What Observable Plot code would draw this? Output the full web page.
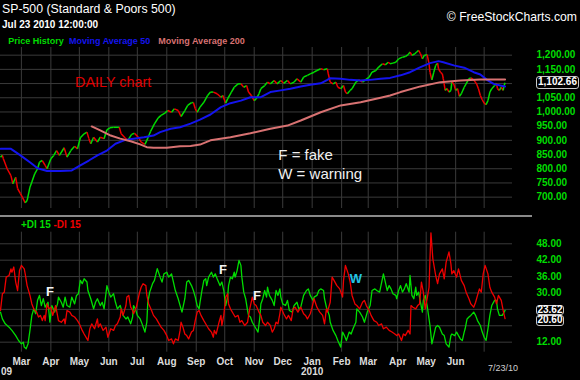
<!DOCTYPE html>
<html><head><meta charset="utf-8">
<script src="https://cdn.jsdelivr.net/npm/d3@7"></script>
<script src="https://cdn.jsdelivr.net/npm/@observablehq/plot@0.6"></script>
<style>
html,body{margin:0;padding:0;background:#000;}
body{width:580px;height:380px;overflow:hidden;position:relative;font-family:"Liberation Sans",Arial,sans-serif;}
.t{position:absolute;white-space:nowrap;line-height:1;}
.abs{position:absolute;left:0;}
.box{position:absolute;box-sizing:border-box;border:1px solid #c8c8c8;border-radius:3px;background:#000;color:#fff;font:bold 10px "Liberation Sans",Arial,sans-serif;text-align:center;}
</style></head><body>
<script>
// ---------- data ----------
const price = [["2009-02-07",841],["2009-02-09",847],["2009-02-10",835],["2009-02-14",800],["2009-02-18",776],["2009-02-20",747],["2009-02-23",770],["2009-02-25",730],["2009-02-28",712],["2009-03-02",700],["2009-03-05",680],["2009-03-07",688],["2009-03-10",735],["2009-03-12",753],["2009-03-15",782],["2009-03-18",800],["2009-03-20",823],["2009-03-23",829],["2009-03-26",812],["2009-03-28",800],["2009-04-01",835],["2009-04-04",847],["2009-04-07",864],["2009-04-10",847],["2009-04-15",874],["2009-04-18",841],["2009-04-22",864],["2009-04-26",879],["2009-04-29",870],["2009-05-02",909],["2009-05-06",923],["2009-05-09",929],["2009-05-11",906],["2009-05-13",888],["2009-05-16",911],["2009-05-20",894],["2009-05-23",911],["2009-05-27",906],["2009-05-30",937],["2009-06-02",944],["2009-06-06",946],["2009-06-12",946],["2009-06-14",923],["2009-06-18",909],["2009-06-21",900],["2009-06-25",921],["2009-06-28",925],["2009-07-02",911],["2009-07-05",894],["2009-07-09",886],["2009-07-11",900],["2009-07-15",932],["2009-07-19",958],["2009-07-23",979],["2009-07-26",988],["2009-07-30",996],["2009-08-02",1005],["2009-08-06",999],["2009-08-09",1011],["2009-08-13",1005],["2009-08-16",984],["2009-08-20",1005],["2009-08-23",1023],["2009-08-27",1033],["2009-08-29",1033],["2009-08-31",1011],["2009-09-02",999],["2009-09-05",1017],["2009-09-09",1034],["2009-09-13",1058],["2009-09-16",1070],["2009-09-19",1070],["2009-09-23",1064],["2009-09-27",1052],["2009-09-29",1058],["2009-10-02",1031],["2009-10-04",1046],["2009-10-08",1070],["2009-10-11",1087],["2009-10-15",1099],["2009-10-18",1099],["2009-10-21",1087],["2009-10-24",1093],["2009-10-26",1070],["2009-10-29",1058],["2009-11-01",1040],["2009-11-03",1046],["2009-11-06",1064],["2009-11-08",1082],["2009-11-12",1093],["2009-11-15",1105],["2009-11-18",1099],["2009-11-22",1111],["2009-11-25",1099],["2009-11-29",1111],["2009-12-02",1101],["2009-12-06",1111],["2009-12-09",1099],["2009-12-13",1105],["2009-12-16",1117],["2009-12-20",1105],["2009-12-23",1123],["2009-12-27",1129],["2009-12-30",1134],["2010-01-03",1140],["2010-01-06",1146],["2010-01-10",1152],["2010-01-13",1149],["2010-01-17",1152],["2010-01-18",1134],["2010-01-20",1105],["2010-01-23",1099],["2010-01-26",1105],["2010-01-28",1087],["2010-01-31",1082],["2010-02-03",1093],["2010-02-05",1070],["2010-02-07",1064],["2010-02-10",1076],["2010-02-12",1082],["2010-02-16",1105],["2010-02-19",1113],["2010-02-23",1105],["2010-02-26",1113],["2010-03-02",1123],["2010-03-05",1140],["2010-03-09",1146],["2010-03-12",1158],["2010-03-16",1170],["2010-03-19",1166],["2010-03-22",1175],["2010-03-24",1170],["2010-03-27",1172],["2010-03-30",1175],["2010-04-02",1187],["2010-04-06",1193],["2010-04-09",1195],["2010-04-12",1202],["2010-04-14",1211],["2010-04-16",1199],["2010-04-19",1205],["2010-04-21",1211],["2010-04-23",1217],["2010-04-25",1205],["2010-04-27",1187],["2010-04-29",1199],["2010-05-02",1202],["2010-05-04",1170],["2010-05-05",1140],["2010-05-07",1113],["2010-05-09",1140],["2010-05-11",1164],["2010-05-13",1172],["2010-05-14",1152],["2010-05-16",1140],["2010-05-18",1134],["2010-05-19",1117],["2010-05-21",1076],["2010-05-23",1082],["2010-05-25",1070],["2010-05-27",1076],["2010-05-28",1105],["2010-05-30",1099],["2010-06-01",1076],["2010-06-03",1082],["2010-06-05",1055],["2010-06-07",1064],["2010-06-10",1087],["2010-06-12",1099],["2010-06-15",1117],["2010-06-17",1120],["2010-06-20",1113],["2010-06-23",1099],["2010-06-25",1082],["2010-06-27",1058],["2010-06-29",1043],["2010-07-01",1031],["2010-07-03",1026],["2010-07-05",1040],["2010-07-07",1070],["2010-07-09",1082],["2010-07-12",1093],["2010-07-14",1101],["2010-07-15",1082],["2010-07-17",1076],["2010-07-19",1087],["2010-07-21",1076],["2010-07-22",1093],["2010-07-23",1102.66]];

const sma50 = [["2009-02-07",870],["2009-02-18",870],["2009-02-28",847],["2009-03-11",820],["2009-03-18",802],["2009-03-28",792],["2009-04-11",792],["2009-04-23",794],["2009-05-02",812],["2009-05-11",829],["2009-05-20",847],["2009-05-30",864],["2009-06-08",888],["2009-06-17",900],["2009-06-27",906],["2009-07-08",911],["2009-07-18",917],["2009-07-25",929],["2009-08-05",941],["2009-08-15",946],["2009-08-26",959],["2009-09-05",973],["2009-09-16",991],["2009-09-27",1017],["2009-10-07",1031],["2009-10-18",1040],["2009-10-28",1052],["2009-11-08",1052],["2009-11-18",1070],["2009-11-29",1076],["2009-12-09",1082],["2009-12-20",1090],["2009-12-30",1096],["2010-01-10",1101],["2010-01-17",1113],["2010-01-20",1119],["2010-01-31",1117],["2010-02-10",1113],["2010-02-21",1111],["2010-03-03",1113],["2010-03-14",1117],["2010-03-24",1120],["2010-04-04",1129],["2010-04-14",1140],["2010-04-25",1158],["2010-05-05",1172],["2010-05-14",1179],["2010-05-19",1175],["2010-05-30",1164],["2010-06-10",1156],["2010-06-20",1140],["2010-06-27",1132],["2010-07-04",1113],["2010-07-11",1099],["2010-07-18",1093],["2010-07-23",1090]];

const sma200 = [["2009-05-14",949],["2009-05-23",935],["2009-06-03",917],["2009-06-13",906],["2009-06-24",897],["2009-07-04",886],["2009-07-11",876],["2009-07-18",874],["2009-08-01",874],["2009-08-15",879],["2009-08-26",880],["2009-09-05",885],["2009-09-16",900],["2009-10-07",911],["2009-10-28",925],["2009-11-18",941],["2009-12-06",952],["2009-12-20",970],["2010-01-10",999],["2010-01-31",1023],["2010-02-21",1034],["2010-03-14",1050],["2010-03-24",1058],["2010-04-04",1070],["2010-04-25",1090],["2010-05-16",1105],["2010-06-06",1111],["2010-06-27",1114],["2010-07-23",1114]];

const plusDI = [["2009-02-07",23.0],["2009-02-09",20.5],["2009-02-12",18.7],["2009-02-16",17.5],["2009-02-19",16.3],["2009-02-23",14.4],["2009-02-26",12.6],["2009-03-01",11.4],["2009-03-03",12.0],["2009-03-04",10.2],["2009-03-06",9.6],["2009-03-08",11.4],["2009-03-10",16.3],["2009-03-12",21.8],["2009-03-14",24.2],["2009-03-16",22.4],["2009-03-18",27.3],["2009-03-20",29.1],["2009-03-22",25.4],["2009-03-24",27.9],["2009-03-26",24.8],["2009-03-29",26.6],["2009-03-31",19.3],["2009-04-02",25.4],["2009-04-05",23.0],["2009-04-08",26.0],["2009-04-09",28.5],["2009-04-12",26.6],["2009-04-14",24.8],["2009-04-16",28.5],["2009-04-18",25.4],["2009-04-21",24.8],["2009-04-23",28.5],["2009-04-26",26.0],["2009-04-28",29.1],["2009-04-30",29.7],["2009-05-02",34.6],["2009-05-04",33.4],["2009-05-06",35.2],["2009-05-09",34.0],["2009-05-10",30.9],["2009-05-13",27.9],["2009-05-16",24.2],["2009-05-18",26.6],["2009-05-20",27.9],["2009-05-23",25.4],["2009-05-25",26.6],["2009-05-27",24.2],["2009-05-30",32.7],["2009-06-01",30.3],["2009-06-03",28.5],["2009-06-06",29.7],["2009-06-08",26.6],["2009-06-10",24.2],["2009-06-13",25.4],["2009-06-16",21.8],["2009-06-19",20.5],["2009-06-21",21.2],["2009-06-24",18.7],["2009-06-26",21.2],["2009-06-27",25.4],["2009-06-29",24.2],["2009-07-01",21.8],["2009-07-04",20.5],["2009-07-06",18.7],["2009-07-09",15.7],["2009-07-11",19.3],["2009-07-12",26.6],["2009-07-14",30.3],["2009-07-17",33.4],["2009-07-19",34.6],["2009-07-22",38.9],["2009-07-25",35.8],["2009-07-27",34.0],["2009-07-29",37.0],["2009-08-01",37.6],["2009-08-03",35.8],["2009-08-06",37.0],["2009-08-08",34.0],["2009-08-10",30.9],["2009-08-13",27.9],["2009-08-15",25.4],["2009-08-17",23.0],["2009-08-20",27.9],["2009-08-22",34.0],["2009-08-24",34.6],["2009-08-27",32.7],["2009-08-29",30.9],["2009-08-31",28.5],["2009-09-02",25.4],["2009-09-04",24.2],["2009-09-05",26.6],["2009-09-07",30.9],["2009-09-09",34.6],["2009-09-11",35.2],["2009-09-12",32.7],["2009-09-14",35.8],["2009-09-17",37.6],["2009-09-19",35.8],["2009-09-21",37.0],["2009-09-23",35.2],["2009-09-26",32.7],["2009-09-28",34.0],["2009-09-30",30.9],["2009-10-02",25.4],["2009-10-04",28.5],["2009-10-05",32.7],["2009-10-07",35.8],["2009-10-09",35.2],["2009-10-11",37.6],["2009-10-12",35.8],["2009-10-14",38.2],["2009-10-16",41.9],["2009-10-18",40.1],["2009-10-19",35.8],["2009-10-21",30.3],["2009-10-23",27.9],["2009-10-25",23.6],["2009-10-26",21.8],["2009-10-28",21.2],["2009-10-30",19.3],["2009-11-01",18.1],["2009-11-03",16.9],["2009-11-05",15.7],["2009-11-07",21.2],["2009-11-08",26.0],["2009-11-10",27.9],["2009-11-12",30.9],["2009-11-14",28.5],["2009-11-15",32.1],["2009-11-17",29.1],["2009-11-20",27.3],["2009-11-22",25.4],["2009-11-24",30.9],["2009-11-26",29.1],["2009-11-28",31.5],["2009-11-29",28.5],["2009-12-01",26.0],["2009-12-04",25.4],["2009-12-06",27.3],["2009-12-08",23.6],["2009-12-11",23.0],["2009-12-13",25.4],["2009-12-16",26.6],["2009-12-18",24.2],["2009-12-20",24.8],["2009-12-23",29.1],["2009-12-26",30.9],["2009-12-28",31.5],["2009-12-30",29.1],["2010-01-02",27.3],["2010-01-03",28.5],["2010-01-06",29.1],["2010-01-08",30.9],["2010-01-10",31.5],["2010-01-13",30.9],["2010-01-14",27.9],["2010-01-16",24.8],["2010-01-19",21.8],["2010-01-20",19.3],["2010-01-23",16.3],["2010-01-26",14.4],["2010-01-28",12.6],["2010-01-31",10.2],["2010-02-02",15.7],["2010-02-04",14.4],["2010-02-06",12.6],["2010-02-09",15.7],["2010-02-11",15.0],["2010-02-13",16.9],["2010-02-16",19.3],["2010-02-17",24.2],["2010-02-20",23.0],["2010-02-23",21.2],["2010-02-25",19.3],["2010-02-28",23.0],["2010-03-03",25.4],["2010-03-05",30.9],["2010-03-08",31.5],["2010-03-10",30.9],["2010-03-13",30.3],["2010-03-17",37.0],["2010-03-19",34.0],["2010-03-21",30.9],["2010-03-23",32.7],["2010-03-25",31.5],["2010-03-27",29.7],["2010-03-30",29.1],["2010-03-31",27.9],["2010-04-02",30.9],["2010-04-04",32.7],["2010-04-06",30.3],["2010-04-08",31.5],["2010-04-10",33.4],["2010-04-13",30.3],["2010-04-14",36.4],["2010-04-16",29.1],["2010-04-18",27.9],["2010-04-20",32.1],["2010-04-21",29.1],["2010-04-23",30.3],["2010-04-25",26.6],["2010-04-27",23.0],["2010-04-28",27.3],["2010-04-30",29.1],["2010-05-02",25.4],["2010-05-04",20.5],["2010-05-05",18.1],["2010-05-07",11.4],["2010-05-09",14.4],["2010-05-11",17.5],["2010-05-13",18.1],["2010-05-15",17.5],["2010-05-18",15.0],["2010-05-20",14.4],["2010-05-22",11.4],["2010-05-25",10.2],["2010-05-27",14.4],["2010-05-28",15.0],["2010-05-31",14.4],["2010-06-02",15.7],["2010-06-04",14.4],["2010-06-06",13.2],["2010-06-08",12.6],["2010-06-10",15.7],["2010-06-11",16.9],["2010-06-13",20.5],["2010-06-15",21.2],["2010-06-17",21.8],["2010-06-20",23.0],["2010-06-22",21.8],["2010-06-24",19.9],["2010-06-27",18.1],["2010-06-29",15.7],["2010-07-01",13.8],["2010-07-03",12.6],["2010-07-05",16.9],["2010-07-07",21.8],["2010-07-09",25.4],["2010-07-12",27.3],["2010-07-14",27.3],["2010-07-15",24.2],["2010-07-17",21.8],["2010-07-20",21.8],["2010-07-22",23.0],["2010-07-23",23.62]];

const minusDI = [["2009-02-07",23.6],["2009-02-09",29.7],["2009-02-11",30.3],["2009-02-13",35.8],["2009-02-16",36.4],["2009-02-18",38.8],["2009-02-19",37.6],["2009-02-21",39.5],["2009-02-23",34.0],["2009-02-25",30.9],["2009-02-27",38.2],["2009-03-01",40.1],["2009-03-04",38.8],["2009-03-05",37.0],["2009-03-07",32.7],["2009-03-10",29.1],["2009-03-12",26.0],["2009-03-14",24.2],["2009-03-17",23.0],["2009-03-19",21.2],["2009-03-21",21.8],["2009-03-23",19.9],["2009-03-25",21.8],["2009-03-26",19.9],["2009-03-28",26.0],["2009-03-30",24.2],["2009-04-01",24.8],["2009-04-03",21.8],["2009-04-06",25.4],["2009-04-08",21.8],["2009-04-09",19.9],["2009-04-12",19.3],["2009-04-15",20.5],["2009-04-16",18.7],["2009-04-18",23.6],["2009-04-21",23.0],["2009-04-23",21.8],["2009-04-26",21.2],["2009-04-29",19.9],["2009-05-01",18.7],["2009-05-04",16.3],["2009-05-06",15.0],["2009-05-09",13.2],["2009-05-10",12.6],["2009-05-12",16.9],["2009-05-14",18.7],["2009-05-17",16.9],["2009-05-20",20.5],["2009-05-21",17.5],["2009-05-23",18.7],["2009-05-26",16.3],["2009-05-29",17.5],["2009-05-31",13.8],["2009-06-03",16.9],["2009-06-06",16.3],["2009-06-08",18.1],["2009-06-10",18.7],["2009-06-13",21.2],["2009-06-14",24.2],["2009-06-16",21.8],["2009-06-19",25.4],["2009-06-20",28.5],["2009-06-22",29.1],["2009-06-24",24.8],["2009-06-26",23.6],["2009-06-27",22.4],["2009-06-30",24.8],["2009-07-03",29.7],["2009-07-05",32.1],["2009-07-07",33.4],["2009-07-10",32.7],["2009-07-11",29.1],["2009-07-13",26.0],["2009-07-16",23.6],["2009-07-18",21.8],["2009-07-21",20.5],["2009-07-24",18.7],["2009-07-26",17.5],["2009-07-29",16.3],["2009-08-01",14.4],["2009-08-03",12.6],["2009-08-06",13.2],["2009-08-08",11.4],["2009-08-10",13.2],["2009-08-13",12.6],["2009-08-15",16.3],["2009-08-16",19.3],["2009-08-18",17.5],["2009-08-20",15.0],["2009-08-22",14.4],["2009-08-24",13.2],["2009-08-27",15.7],["2009-08-29",16.3],["2009-08-31",20.0],["2009-09-02",23.0],["2009-09-04",23.6],["2009-09-06",21.8],["2009-09-09",19.9],["2009-09-12",18.1],["2009-09-14",16.9],["2009-09-17",15.7],["2009-09-19",13.8],["2009-09-20",16.3],["2009-09-22",15.0],["2009-09-25",19.3],["2009-09-27",21.8],["2009-09-28",18.1],["2009-09-30",21.8],["2009-10-02",28.5],["2009-10-04",29.7],["2009-10-05",26.0],["2009-10-07",24.2],["2009-10-10",22.4],["2009-10-12",21.2],["2009-10-15",21.8],["2009-10-17",19.3],["2009-10-19",19.9],["2009-10-22",18.1],["2009-10-25",19.3],["2009-10-27",23.6],["2009-10-30",28.5],["2009-11-01",26.0],["2009-11-03",25.4],["2009-11-06",23.0],["2009-11-08",21.8],["2009-11-10",19.3],["2009-11-13",18.1],["2009-11-15",19.3],["2009-11-18",18.1],["2009-11-20",15.7],["2009-11-22",16.9],["2009-11-24",19.3],["2009-11-26",18.7],["2009-11-28",22.4],["2009-11-29",24.8],["2009-12-02",22.4],["2009-12-05",20.5],["2009-12-07",21.8],["2009-12-10",19.9],["2009-12-12",24.2],["2009-12-14",24.8],["2009-12-17",23.0],["2009-12-20",24.8],["2009-12-23",22.4],["2009-12-25",21.8],["2009-12-27",20.5],["2009-12-30",22.4],["2010-01-01",24.8],["2010-01-03",27.9],["2010-01-06",24.8],["2010-01-09",23.0],["2010-01-12",21.8],["2010-01-14",18.7],["2010-01-16",24.2],["2010-01-17",23.0],["2010-01-20",26.6],["2010-01-22",35.8],["2010-01-24",34.6],["2010-01-27",32.7],["2010-01-30",31.5],["2010-02-02",28.5],["2010-02-03",34.6],["2010-02-05",40.1],["2010-02-08",37.0],["2010-02-10",34.0],["2010-02-12",29.1],["2010-02-15",26.0],["2010-02-17",25.4],["2010-02-20",24.2],["2010-02-23",26.6],["2010-02-25",27.3],["2010-02-27",25.4],["2010-03-02",23.6],["2010-03-04",21.8],["2010-03-07",19.9],["2010-03-10",19.3],["2010-03-12",18.1],["2010-03-15",18.7],["2010-03-17",16.9],["2010-03-20",17.5],["2010-03-23",16.3],["2010-03-26",15.7],["2010-03-29",15.0],["2010-03-31",14.4],["2010-04-02",15.0],["2010-04-05",12.6],["2010-04-07",15.0],["2010-04-09",14.4],["2010-04-12",16.3],["2010-04-14",15.0],["2010-04-15",25.4],["2010-04-17",24.8],["2010-04-20",24.2],["2010-04-22",25.4],["2010-04-24",26.0],["2010-04-26",34.0],["2010-04-28",30.3],["2010-04-30",24.2],["2010-05-02",27.9],["2010-05-04",32.1],["2010-05-05",42.5],["2010-05-06",52.0],["2010-05-08",42.5],["2010-05-11",36.4],["2010-05-13",33.4],["2010-05-15",37.0],["2010-05-18",38.8],["2010-05-20",35.2],["2010-05-22",41.3],["2010-05-25",45.0],["2010-05-27",40.7],["2010-05-28",37.0],["2010-05-30",38.2],["2010-06-02",35.8],["2010-06-04",38.8],["2010-06-07",34.6],["2010-06-10",32.7],["2010-06-12",30.3],["2010-06-15",27.9],["2010-06-17",26.0],["2010-06-20",24.8],["2010-06-22",26.6],["2010-06-24",29.1],["2010-06-26",31.5],["2010-06-28",30.3],["2010-06-30",37.0],["2010-07-02",40.1],["2010-07-05",37.0],["2010-07-07",32.1],["2010-07-09",30.3],["2010-07-12",28.5],["2010-07-14",26.0],["2010-07-16",29.1],["2010-07-19",27.3],["2010-07-21",23.6],["2010-07-23",20.60]];

const priceTicks = [700, 750, 800, 850, 900, 950, 1000, 1050, 1100, 1150, 1200];
const diTicks = [12, 18, 24, 30, 36, 42, 48];
const monthTicks = ["2009-03-01","2009-04-01","2009-05-01","2009-06-01","2009-07-01","2009-08-01","2009-09-01","2009-10-01","2009-11-01","2009-12-01","2010-01-01","2010-02-01","2010-03-01","2010-04-01","2010-05-01","2010-06-01","2010-07-01"];
const monthLabels = ["Mar","Apr","May","Jun","Jul","Aug","Sep","Oct","Nov","Dec","Jan","Feb","Mar","Apr","May","Jun"];
const yearStartLabel = ["2009-02-07","09"];
const yearLabel = ["2010-01-01","2010"];
const lastDateLabel = ["2010-07-23","7/23/10"];
const annoLabels = ["F","F","F","W"];
const annoDates = ["2009-03-31","2009-09-29","2009-11-04","2010-02-16"];
const annoValues = [30.5, 38.6, 29.1, 35.2];
const annoColors = ["#f4f4f4","#f4f4f4","#f4f4f4","#22c4e4"];

// ---------- helpers ----------
const D = s => new Date(s + "T00:00:00Z");
const toRows = arr => arr.map(([d, v]) => ({date: D(d), value: v}));
const P = toRows(price), S50 = toRows(sma50), S200 = toRows(sma200), PDI = toRows(plusDI), MDI = toRows(minusDI);
const segs = P.slice(1).map((d, i) => ({x1: P[i].date, y1: P[i].value, x2: d.date, y2: d.value, c: d.value >= P[i].value ? "#00dd00" : "#ee0000"}));
const months = monthTicks.map(D);
const xDomain = [D("2009-02-07"), new Date(Date.UTC(2010, 6, 30, 20))];
const GRID = "#3a3a3a";
const FONT = "'Liberation Sans', Arial, sans-serif";
const lastP = P[P.length - 1].value;
const lastPlus = PDI[PDI.length - 1].value, lastMinus = MDI[MDI.length - 1].value;
// tick labels that sit (almost) fully under the last-value boxes are hidden, as in the reference
const priceLabelTicks = priceTicks.filter(t => Math.abs(t - lastP) > 12);
const diLabelTicks = diTicks.filter(t => Math.abs(t - (lastPlus + lastMinus) / 2) > 4.5);

const body = document.body;
function txt(s, left, top, css) {
  const el = document.createElement("div");
  el.className = "t"; el.textContent = s;
  el.style.left = left + "px"; el.style.top = top + "px";
  Object.assign(el.style, css || {});
  body.appendChild(el); return el;
}

// ---------- top panel: price ----------
const chart1 = Plot.plot({
  width: 580, height: 178, marginTop: 7, marginBottom: 10, marginLeft: 0, marginRight: 68,
  style: {background: "transparent", fontFamily: FONT, overflow: "visible"},
  x: {type: "utc", domain: xDomain, axis: null},
  y: {domain: [660, 1227], axis: null},
  color: {type: "identity"},
  marks: [
    Plot.ruleY(priceTicks, {stroke: GRID, strokeWidth: 1}),
    Plot.ruleX(months, {stroke: GRID, strokeWidth: 1}),
    Plot.link(segs, {x1: "x1", y1: "y1", x2: "x2", y2: "y2", stroke: "c", strokeWidth: 1.5}),
    Plot.line(S50, {x: "date", y: "value", stroke: "#1414ee", strokeWidth: 2}),
    Plot.line(S200, {x: "date", y: "value", stroke: "#d87272", strokeWidth: 2}),
    Plot.text(priceLabelTicks, {y: d => d, frameAnchor: "right", dx: 24, textAnchor: "start",
      text: d => d3.format(",.2f")(d), fill: "#00dd00", fontSize: 10, fontWeight: "bold"})
  ]
});
chart1.classList.add("abs"); chart1.style.top = "40px";
body.appendChild(chart1);

// ---------- bottom panel: DI ----------
const chart2 = Plot.plot({
  width: 580, height: 162, marginTop: 13.7, marginBottom: 28.3, marginLeft: 0, marginRight: 68,
  style: {background: "transparent", fontFamily: FONT, overflow: "visible"},
  x: {type: "utc", domain: xDomain, axis: null},
  y: {domain: [8.33, 52.24], axis: null},
  color: {type: "identity"},
  marks: [
    Plot.ruleY(diTicks, {stroke: GRID, strokeWidth: 1}),
    Plot.ruleX(months, {stroke: GRID, strokeWidth: 1}),
    Plot.line(PDI, {x: "date", y: "value", stroke: "#00dd00", strokeWidth: 1.3}),
    Plot.line(MDI, {x: "date", y: "value", stroke: "#ee0000", strokeWidth: 1.3}),
    Plot.text(annoLabels, {x: (d, i) => D(annoDates[i]), y: (d, i) => annoValues[i], text: d => d,
      fill: (d, i) => annoColors[i], fontSize: 13, fontWeight: "bold"}),
    Plot.text(diLabelTicks, {y: d => d, frameAnchor: "right", dx: 24, textAnchor: "start",
      text: d => d3.format(".2f")(d), fill: "#00dd00", fontSize: 10, fontWeight: "bold"}),
    Plot.text(monthLabels, {x: (d, i) => months[i], text: d => d, frameAnchor: "bottom", dy: 12.3,
      fill: "#dcdcdc", fontSize: 10, fontWeight: "bold"}),
    Plot.text([yearStartLabel], {x: d => D(d[0]), text: d => d[1], textAnchor: "start", dx: 0.5, frameAnchor: "bottom", dy: 22.8,
      fill: "#dcdcdc", fontSize: 10, fontWeight: "bold"}),
    Plot.text([yearLabel], {x: d => D(d[0]), text: d => d[1], frameAnchor: "bottom", dy: 22.8,
      fill: "#dcdcdc", fontSize: 10, fontWeight: "bold"}),
    Plot.text([lastDateLabel], {x: d => D(d[0]), text: d => d[1], frameAnchor: "bottom", dy: 18.3, dx: -2,
      fill: "#cfcfcf", fontSize: 9})
  ]
});
chart2.classList.add("abs"); chart2.style.top = "218px";
body.appendChild(chart2);

// separator line between panels
const sep = document.createElement("div");
Object.assign(sep.style, {position: "absolute", left: "0px", top: "215.3px", width: "532px", height: "1.5px", background: "#8a8a8a"});
body.appendChild(sep);

// ---------- last-value boxes ----------
function box(s, left, top, w, h) {
  const el = document.createElement("div");
  el.className = "box"; el.textContent = s;
  Object.assign(el.style, {left: left + "px", top: top + "px", width: w + "px", height: h + "px", lineHeight: (h - 2) + "px"});
  body.appendChild(el); return el;
}
const py = 40 + chart1.scale("y").apply(lastP);
box(d3.format(",.2f")(lastP), 535.7, py - 6.4, 43.6, 12.8);
const dy1 = 218 + chart2.scale("y").apply(lastPlus);
box(d3.format(".2f")(lastPlus), 535.7, dy1 - 5.4, 28.6, 10.8);
box(d3.format(".2f")(lastMinus), 535.7, dy1 + 5.2, 28.6, 10.8);

// ---------- titles, legends, notes ----------
txt("SP-500 (Standard & Poors 500)", 2, 3, {fontSize: "12.3px", color: "#fff"});
txt("Jul 23 2010 12:00:00", 2, 20, {fontSize: "10px", fontWeight: "bold", color: "#fff"});
txt("Price History", 8.3, 37.2, {fontSize: "9px", fontWeight: "bold", color: "#00dd00"});
txt("Moving Average 50", 69, 37.2, {fontSize: "9px", fontWeight: "bold", color: "#1414ee"});
txt("Moving Average 200", 158.3, 37.2, {fontSize: "9px", fontWeight: "bold", color: "#d87272"});
const cp = txt("© FreeStockCharts.com", 0, 10.7, {fontSize: "12.2px", color: "#fff"});
cp.style.left = "auto"; cp.style.right = "3px";
txt("DAILY chart", 75, 74.6, {fontSize: "14.4px", color: "#e00000"});
txt("F = fake", 278.3, 146.8, {fontSize: "15px", color: "#f0f0f0"});
txt("W = warning", 278.3, 165.8, {fontSize: "15px", color: "#f0f0f0"});
const leg = txt("", 21, 220, {fontSize: "10px", fontWeight: "bold"});
leg.innerHTML = '<span style="color:#00dd00">+DI 15</span> <span style="color:#ee0000">-DI 15</span>';
</script>
</body></html>
